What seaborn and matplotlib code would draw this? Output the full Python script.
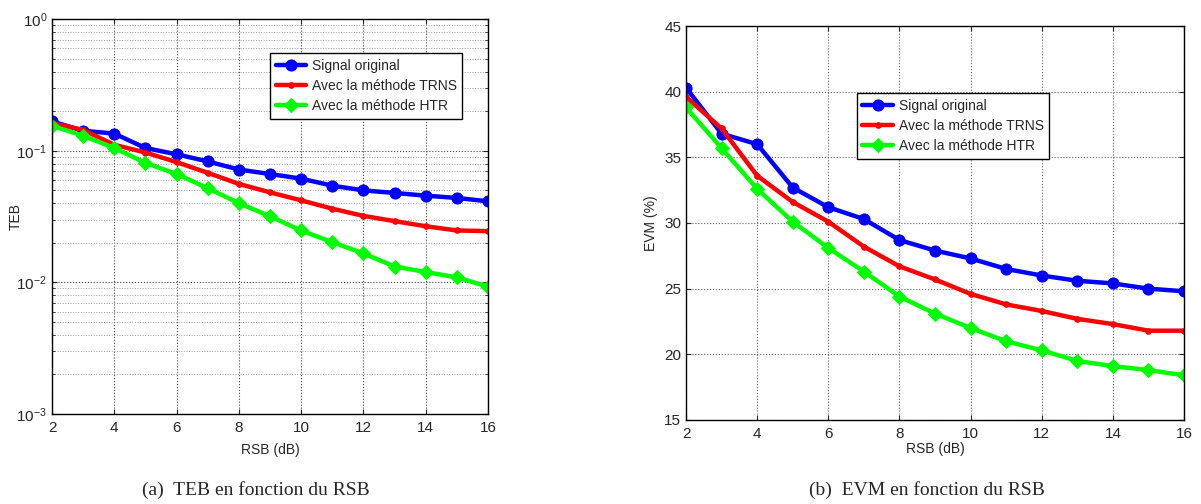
import numpy as np
import pandas as pd
import matplotlib
matplotlib.use('Agg')
import matplotlib.pyplot as plt
import seaborn as sns
from matplotlib.ticker import LogLocator, MultipleLocator, NullFormatter

sns.set_style('ticks')
plt.rcParams['font.family'] = ['Liberation Sans', 'DejaVu Sans']
plt.rcParams['mathtext.fontset'] = 'custom'
plt.rcParams['mathtext.rm'] = 'Liberation Sans'

# données
rsb = [2, 3, 4, 5, 6, 7, 8, 9, 10, 11, 12, 13, 14, 15, 16]

teb_original = [0.167, 0.142, 0.135, 0.105, 0.094, 0.083, 0.072, 0.0666, 0.0614,
                0.0543, 0.050, 0.0478, 0.0456, 0.0438, 0.0413]
teb_trns = [0.162, 0.144, 0.111, 0.097, 0.082, 0.068, 0.056, 0.0483, 0.042,
            0.0363, 0.032, 0.0292, 0.0267, 0.0248, 0.0245]
teb_htr = [0.155, 0.130, 0.105, 0.081, 0.0666, 0.052, 0.040, 0.0318, 0.0248,
           0.0202, 0.0166, 0.0132, 0.0120, 0.0109, 0.0093]

evm_original = [40.3, 36.8, 36.0, 32.7, 31.2, 30.3, 28.7, 27.9, 27.3, 26.5, 26.0,
                25.6, 25.4, 25.0, 24.8]
evm_trns = [39.6, 37.2, 33.6, 31.6, 30.1, 28.2, 26.7, 25.7, 24.6, 23.8, 23.3,
            22.7, 22.3, 21.8, 21.8]
evm_htr = [38.8, 35.7, 32.6, 30.1, 28.1, 26.3, 24.4, 23.1, 22.0, 21.0, 20.3,
           19.5, 19.1, 18.8, 18.4]

labels = ['Signal original', 'Avec la méthode TRNS', 'Avec la méthode HTR']
colors = ['#0000ff', '#ff0000', '#00ff00']
markers = ['o', '.', 'D']
msizes = [8, 8, 7.5]

fig = plt.figure(figsize=(12.01, 5.04), dpi=100)
ax1 = fig.add_axes([0.0433, 0.1786, 0.3630, 0.7834])
ax2 = fig.add_axes([0.5712, 0.1667, 0.4147, 0.7817])


def tracer(ax, series):
    for y, lab, c, m, ms in zip(series, labels, colors, markers, msizes):
        sns.lineplot(x=rsb, y=y, ax=ax, color=c, marker=m, markersize=ms,
                     markeredgecolor=c, linewidth=3.2, label=lab)


tracer(ax1, [teb_original, teb_trns, teb_htr])
tracer(ax2, [evm_original, evm_trns, evm_htr])

# axe (a) : TEB en échelle log
ax1.set_yscale('log')
ax1.set_ylim(1e-3, 1)
ax1.set_xlim(2, 16)
ax1.xaxis.set_major_locator(MultipleLocator(2))
ax1.yaxis.set_major_locator(LogLocator(base=10, numticks=10))
ax1.yaxis.set_minor_locator(LogLocator(base=10, subs=np.arange(2, 10), numticks=20))
ax1.yaxis.set_minor_formatter(NullFormatter())
ax1.grid(True, which='major', linestyle=':', color='#444444', linewidth=0.8)
ax1.grid(True, which='minor', axis='y', linestyle=':', color='#999999', linewidth=0.7)
ax1.set_xlabel('RSB (dB)', fontsize=10, labelpad=6)
ax1.set_ylabel('TEB', fontsize=10)
ax1.yaxis.set_label_coords(-0.066, 0.5)

# axe (b) : EVM
ax2.set_ylim(15, 45)
ax2.set_xlim(2, 16)
ax2.xaxis.set_major_locator(MultipleLocator(2))
ax2.yaxis.set_major_locator(MultipleLocator(5))
ax2.grid(True, which='major', linestyle=':', color='#666666', linewidth=0.8)
ax2.set_xlabel('RSB (dB)', fontsize=10, labelpad=1)
ax2.set_ylabel('EVM (%)', fontsize=10)
ax2.yaxis.set_label_coords(-0.056, 0.5)

for ax in (ax1, ax2):
    ax.tick_params(which='both', direction='in', top=True, right=True, labelsize=11)
    ax.tick_params(axis='x', pad=5)
    for s in ax.spines.values():
        s.set_linewidth(1.0)
        s.set_color('black')

leg_kw = dict(loc='upper left', fontsize=10, frameon=True, fancybox=False,
              edgecolor='black', framealpha=1, handlelength=2.2, borderpad=0.4,
              labelspacing=0.45, handletextpad=0.4, borderaxespad=0)
leg1 = ax1.legend(bbox_to_anchor=(0.50, 0.914), **leg_kw)
leg2 = ax2.legend(bbox_to_anchor=(0.343, 0.83), **leg_kw)
for leg in (leg1, leg2):
    leg.get_frame().set_linewidth(1.0)

# légendes des sous-figures
fig.text(0.213, 0.027, '(a)  TEB en fonction du RSB', ha='center', va='center',
         fontsize=14, family=['Liberation Serif', 'DejaVu Serif'])
fig.text(0.772, 0.027, '(b)  EVM en fonction du RSB', ha='center', va='center',
         fontsize=14, family=['Liberation Serif', 'DejaVu Serif'])

fig.savefig('out.png', dpi=100)
